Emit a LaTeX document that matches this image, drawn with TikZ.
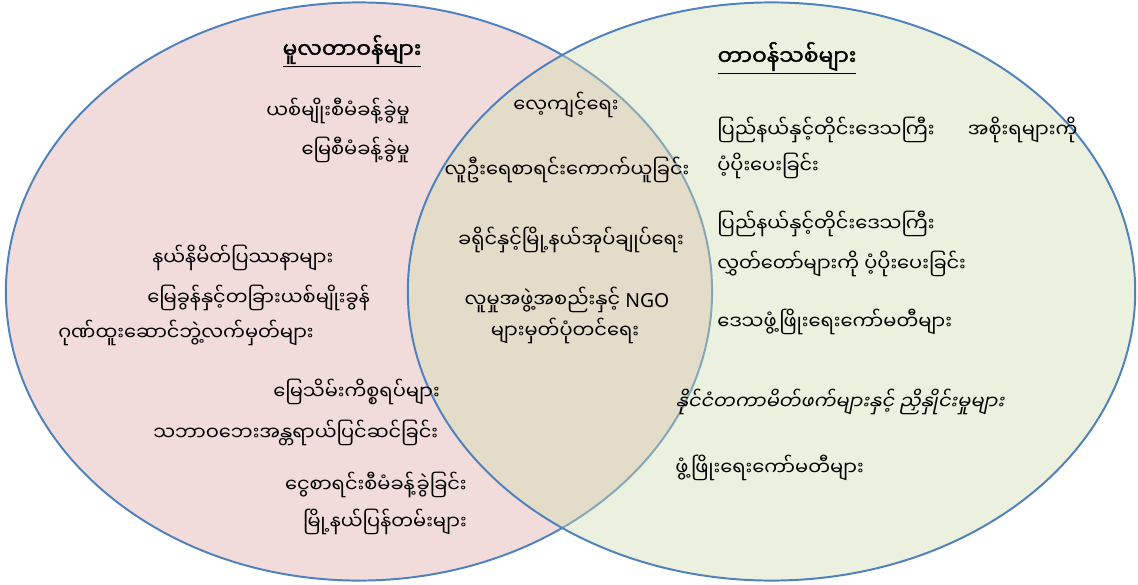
\documentclass[tikz,border=0pt]{standalone}
\usepackage{fontspec}
\setmainfont{Noto Sans}
\newfontfamily\mmfont[Script=Myanmar]{Noto Sans Myanmar UI}
\newfontfamily\mmbold[Script=Myanmar,FakeBold=1.5]{Noto Sans Myanmar UI}
\newfontfamily\mmslant[Script=Myanmar,FakeSlant=0.2]{Noto Sans Myanmar UI}
\usetikzlibrary{positioning}
\definecolor{oldpink}{HTML}{F2DCDB}
\definecolor{newgreen}{RGB}{207,221,176}
\definecolor{rimblue}{HTML}{4F81BD}

\begin{document}
\begin{tikzpicture}[
    x=0.025cm, y=-0.025cm,
    dutyset/.style={draw=rimblue, line width=1.4pt},
    duty/.style={inner sep=0pt, font=\mmfont\fontsize{13.8}{16}\selectfont},
    heading/.style={inner sep=0pt, font=\mmbold\fontsize{15.5}{18}\selectfont}
]
\useasboundingbox (0,0) rectangle (1138,585);

% the two sets
\filldraw[dutyset, fill=oldpink] (359,291.5) ellipse [x radius=8.825cm, y radius=7.225cm];
\filldraw[dutyset, fill=newgreen, fill opacity=0.42] (771.5,291.5) ellipse [x radius=9.09cm, y radius=7.225cm];

% headings
\node[heading, anchor=base] (oldhead) at (352,58) {\underline{မူလတာဝန်များ}};
\node[heading, anchor=base] (newhead) at (787,65) {\underline{တာဝန်သစ်များ}};

% old duties
\node[duty, anchor=base east] (old1) at (410,118) {ယစ်မျိုးစီမံခန့်ခွဲမှု};
\node[duty, anchor=base east] (old2) at (410,157) {မြေစီမံခန့်ခွဲမှု};
\node[duty, anchor=base west] (old3) at (152,265) {နယ်နိမိတ်ပြဿနာများ};
\node[duty, anchor=base west] (old4) at (147,305) {မြေခွန်နှင့်တခြားယစ်မျိုးခွန်};
\node[duty, anchor=base west] (old5) at (58,340) {ဂုဏ်ထူးဆောင်ဘွဲ့လက်မှတ်များ};
\node[duty, anchor=base east] (old6) at (440,399) {မြေသိမ်းကိစ္စရပ်များ};
\node[duty, anchor=base west] (old7) at (153,440) {သဘာဝဘေးအန္တရာယ်ပြင်ဆင်ခြင်း};
\node[duty, anchor=base east] (old8) at (467,492) {ငွေစာရင်းစီမံခန့်ခွဲခြင်း};
\node[duty, anchor=base east] (old9) at (467,529) {မြို့နယ်ပြန်တမ်းများ};

% shared duties
\node[duty, anchor=base] (both1) at (566,112) {လေ့ကျင့်ရေး};
\node[duty, anchor=base] (both2) at (567,177) {လူဦးရေစာရင်းကောက်ယူခြင်း};
\node[duty, anchor=base] (both3) at (571,247) {ခရိုင်နှင့်မြို့နယ်အုပ်ချုပ်ရေး};
\node[duty, anchor=base] (both4) at (567,307) {လူမှုအဖွဲ့အစည်းနှင့် {\rmfamily NGO}};
\node[duty, anchor=base] (both5) at (565,338) {များမှတ်ပုံတင်ရေး};

% new duties
\node[duty, anchor=base west] (new1) at (717,137) {\makebox[9cm][l]{ပြည်နယ်နှင့်တိုင်းဒေသကြီး\hfill အစိုးရများကို}};
\node[duty, anchor=base west] (new2) at (717,173) {ပံ့ပိုးပေးခြင်း};
\node[duty, anchor=base west] (new3) at (717,231) {ပြည်နယ်နှင့်တိုင်းဒေသကြီး};
\node[duty, anchor=base west] (new4) at (717,271) {လွှတ်တော်များကို ပံ့ပိုးပေးခြင်း};
\node[duty, anchor=base west] (new5) at (717,329) {ဒေသဖွံ့ဖြိုးရေးကော်မတီများ};
\node[duty, font=\mmslant\fontsize{13.8}{16}\selectfont, anchor=base west] (new6) at (675,409) {နိုင်ငံတကာမိတ်ဖက်များနှင့် ညှိနှိုင်းမှုများ};
\node[duty, anchor=base west] (new7) at (675,475) {ဖွံ့ဖြိုးရေးကော်မတီများ};

\end{tikzpicture}
\end{document}
